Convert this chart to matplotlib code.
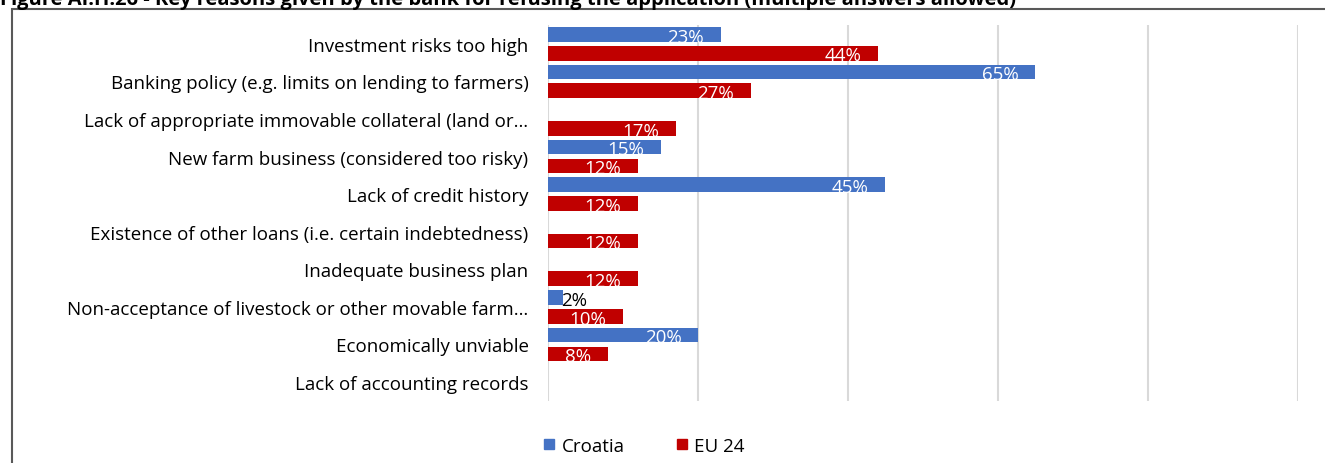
import numpy as np
import matplotlib.pyplot as plt
from matplotlib.patches import Rectangle
from matplotlib.lines import Line2D

plt.rcParams['font.family'] = ['Open Sans', 'DejaVu Sans']

categories = [
    'Investment risks too high',
    'Banking policy (e.g. limits on lending to farmers)',
    'Lack of appropriate immovable collateral (land or…',
    'New farm business (considered too risky)',
    'Lack of credit history',
    'Existence of other loans (i.e. certain indebtedness)',
    'Inadequate business plan',
    'Non-acceptance of livestock or other movable farm…',
    'Economically unviable',
    'Lack of accounting records',
]
croatia = [23, 65, 0, 15, 45, 0, 0, 2, 20, 0]
eu24 = [44, 27, 17, 12, 12, 12, 12, 10, 8, 0]

blue = '#4472C4'
red = '#C00000'

fig = plt.figure(figsize=(13.25, 4.64), dpi=100)
ax = fig.add_axes([0.4136, 0.134, 0.5660, 0.810])

y = np.arange(len(categories))
h = 0.39
ax.barh(y - 0.25, croatia, height=h, color=blue)
ax.barh(y + 0.25, eu24, height=h, color=red)

for yi, v in zip(y, croatia):
    if v == 0:
        continue
    if v < 5:
        ax.text(v - 0.3, yi - 0.19, f'{v}%', ha='left', va='center', fontsize=13.5, color='black')
    else:
        ax.text(v - 2.2, yi - 0.19, f'{v}%', ha='right', va='center', fontsize=13.5, color='white')
for yi, v in zip(y, eu24):
    if v == 0:
        continue
    ax.text(v - 2.2, yi + 0.31, f'{v}%', ha='right', va='center', fontsize=13.5, color='white')

ax.set_xlim(0, 100)
ax.set_ylim(len(categories) - 0.5, -0.5)
ax.set_xticks([0, 20, 40, 60, 80, 100])
ax.set_xticklabels([])
ax.tick_params(axis='x', length=0)
ax.tick_params(axis='y', length=0, pad=14, labelsize=13.5)
ax.set_yticks(y)
ax.set_yticklabels(categories)
ax.grid(axis='x', color='#D9D9D9', linewidth=1.5)
ax.set_axisbelow(True)
for s in ax.spines.values():
    s.set_visible(False)

# outer frame of the chart
fig.patches.append(Rectangle((12 / 1325, -0.1), 1.2, 1 - 10 / 464 + 0.1,
                             transform=fig.transFigure, fill=False,
                             edgecolor='#595959', linewidth=1.5))

fig.text(0.0, 1 - 5 / 464,
         'Figure AI.H.26 - Key reasons given by the bank for refusing the application (multiple answers allowed)',
         ha='left', va='baseline', fontsize=14.5, fontweight='bold')

handles = [Line2D([], [], marker='s', linestyle='none', color=blue, markersize=7.5),
           Line2D([], [], marker='s', linestyle='none', color=red, markersize=7.5)]
fig.legend(handles, ['Croatia', 'EU 24'], loc='center', bbox_to_anchor=(0.485, 0.037),
           ncol=2, frameon=False, fontsize=13.5, handletextpad=0.2,
           columnspacing=2.6, handlelength=0.9)

fig.savefig('out.png', dpi=100)
